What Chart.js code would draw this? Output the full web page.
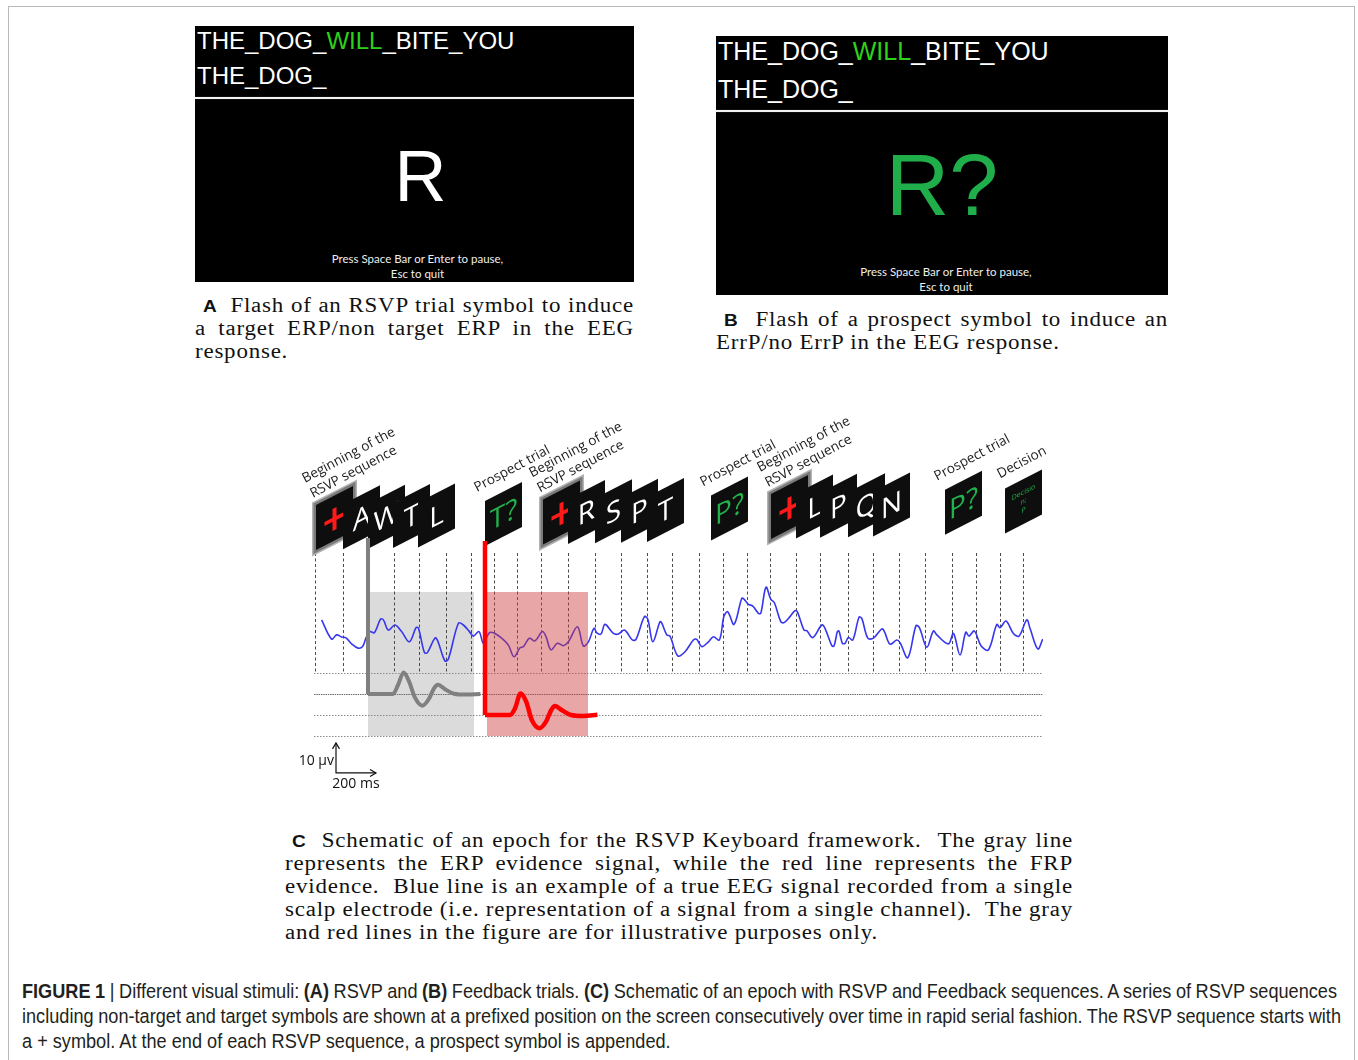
<!DOCTYPE html>
<html>
<head>
<meta charset="utf-8">
<script src="https://cdn.jsdelivr.net/npm/chart.js@4.4.0/dist/chart.umd.min.js"></script>
<style>
  html, body { margin: 0; padding: 0; background: #fff; }
  body { width: 1358px; height: 1060px; position: relative; overflow: hidden; }
  .frame { position: absolute; left: 8px; top: 6px; width: 1347px; height: 1100px; border: 1px solid #b8b8b8; box-sizing: border-box; }
  .screen { position: absolute; background: #000; color: #fff; font-family: "Liberation Sans", Arial, sans-serif; overflow: hidden; }
  .screen .row { position: absolute; left: 2px; white-space: nowrap; line-height: 1; }
  .screen .rule { position: absolute; left: 0; right: 0; height: 2px; background: #f2f2f2; box-shadow: 0 0 1px #999; }
  .screen .big { position: absolute; left: 0; right: 0; text-align: center; line-height: 1; }
  .screen .hint { position: absolute; left: 0; right: 0; text-align: center; font-family: Lato, "Open Sans", sans-serif; font-size: 11.5px; line-height: 15px; color: #eee; }
  .green { color: #2ed11a; }
  .cap { position: absolute; font-family: "Liberation Serif", "Times New Roman", serif; font-size: 20.5px; line-height: 23px; color: #111; letter-spacing: 0.7px; }
  .cap b.lab { font-family: "Liberation Sans", Arial, sans-serif; font-weight: bold; font-size: 17px; letter-spacing: 0; }
  .figcap { position: absolute; left: 22px; top: 978px; font-family: "Liberation Sans", Arial, sans-serif; font-size: 20.5px; line-height: 25px; color: #231f20; }
  .ln { display: block; height: 23px; }
  .figcap .ln { height: 25px; }
  .ln span { display: inline-block; white-space: nowrap; transform-origin: 0 50%; }
  #chartBox { position: absolute; left: 280px; top: 400px; width: 800px; height: 400px; }
</style>
</head>
<body>
<div class="frame"></div>

<!-- Panel A: RSVP trial screen -->
<div class="screen" style="left:195px; top:26px; width:439px; height:256px;">
  <div class="row" style="top:3px; font-size:24px;">THE_DOG_<span class="green">WILL</span>_BITE_YOU</div>
  <div class="row" style="top:38px; font-size:24px;">THE_DOG_</div>
  <div class="rule" style="top:71px;"></div>
  <div class="big" style="top:114px; font-size:72px; padding-left:12px;">R</div>
  <div class="hint" style="top:225px; padding-left:6px;">Press Space Bar or Enter to pause,<br>Esc to quit</div>
</div>
<div class="cap" style="left:195px; top:294px;" data-scale="1.12">
  <div class="ln" data-w="439" data-pad="8"><span><b class="lab">A</b>&nbsp; Flash of an RSVP trial symbol to induce</span></div>
  <div class="ln" data-w="439"><span>a target ERP/non target ERP in the EEG</span></div>
  <div class="ln"><span>response.</span></div>
</div>

<!-- Panel B: feedback (prospect) screen -->
<div class="screen" style="left:716px; top:36px; width:452px; height:259px;">
  <div class="row" style="top:3px; font-size:25px;">THE_DOG_<span class="green">WILL</span>_BITE_YOU</div>
  <div class="row" style="top:41px; font-size:25px;">THE_DOG_</div>
  <div class="rule" style="top:74px;"></div>
  <div class="big" style="top:105px; font-size:88px; color:#1fae4a;">R?</div>
  <div class="hint" style="top:228px; padding-left:8px;">Press Space Bar or Enter to pause,<br>Esc to quit</div>
</div>
<div class="cap" style="left:716px; top:308px;" data-scale="1.12">
  <div class="ln" data-w="452" data-pad="8"><span><b class="lab">B</b>&nbsp; Flash of a prospect symbol to induce an</span></div>
  <div class="ln"><span>ErrP/no ErrP in the EEG response.</span></div>
</div>

<!-- Panel C: epoch schematic -->
<div id="chartBox"><canvas id="epoch" width="800" height="400"></canvas></div>
<div class="cap" style="left:285px; top:829px;" data-scale="1.12">
  <div class="ln" data-w="788" data-pad="7"><span><b class="lab">C</b>&nbsp; Schematic of an epoch for the RSVP Keyboard framework. &nbsp;The gray line</span></div>
  <div class="ln" data-w="788"><span>represents the ERP evidence signal, while the red line represents the FRP</span></div>
  <div class="ln" data-w="788"><span>evidence. &nbsp;Blue line is an example of a true EEG signal recorded from a single</span></div>
  <div class="ln" data-w="788"><span>scalp electrode (i.e. representation of a signal from a single channel). &nbsp;The gray</span></div>
  <div class="ln"><span>and red lines in the figure are for illustrative purposes only.</span></div>
</div>

<div class="figcap" data-scale="0.885">
  <div class="ln" data-w="1315"><span><b>FIGURE 1</b> | Different visual stimuli: <b>(A)</b> RSVP and <b>(B)</b> Feedback trials. <b>(C)</b> Schematic of an epoch with RSVP and Feedback sequences. A series of RSVP sequences</span></div>
  <div class="ln" data-w="1319"><span>including non-target and target symbols are shown at a prefixed position on the screen consecutively over time in rapid serial fashion. The RSVP sequence starts with</span></div>
  <div class="ln"><span>a + symbol. At the end of each RSVP sequence, a prospect symbol is appended.</span></div>
</div>

<script>
// Typeset caption lines: horizontal scale for the face, word spacing to justify.
document.querySelectorAll('.cap, .figcap').forEach(block => {
  const s = parseFloat(block.dataset.scale || '1');
  block.querySelectorAll('.ln').forEach(line => {
    const span = line.querySelector('span');
    const pad = parseFloat(line.dataset.pad || '0');
    span.style.marginLeft = pad + 'px';
    const target = parseFloat(line.dataset.w || '0');
    if (target) {
      const w = span.getBoundingClientRect().width;
      const spaces = (span.textContent.match(/\s/g) || []).length;
      const extra = (target - pad) / s - w;
      span.style.wordSpacing = (extra / spaces) + 'px';
    }
    span.style.transform = 'scaleX(' + s + ')';
  });
});
</script>

<script>
// ---- EEG trace (time in ms, amplitude in µV) ----
const eegTime = [38,88,113,138,160,188,220,243,260,280,302,333,347,372,405,438,477,510,522,552,567,605,618,655,672,722,747,777,797,825,847,875,897,
  938,972,1000,1030,1047,1077,1105,1142,1160,1185,1217,1247,1272,1317,1347,1372,1400,1414,1435,1455,1497,1522,1552,1592,1610,1652,1669,1694,1730,1739,1764,1780,1819,
  1855,1897,1914,1939,1972,1997,2027,2050,2069,2100,2139,2150,2172,2194,2222,2234,2260,2284,2302,2334,2350,2380,2405,2417,2450,2464,2494,2539,2555,2589,2600,2617,2625,2642,2655,2672,2694,2725,2739,2769,
  2797,2839,2852,2880,2914,2930,2969,3010,3027,3064,3097,3114,3172,3197,3230,3259,3275,3302,3335,3372,3414,3430,3460,3497,3525,3564,3580,3619,3644];
const eegMicroV = [6.7,0.3,1.7,1.0,0.7,-1.3,-2.7,-2.2,0.7,2.8,2.4,7.0,6.7,3.3,5.0,2.8,-0.6,4.1,4.0,-4.2,-4.2,0.7,-0.2,-7.0,-6.3,5.6,5.0,2.8,1.3,2.8,-1.1,2.3,2.4,
  0.6,-1.7,-5.6,-2.6,-2.2,0.6,-0.3,2.8,1.1,-3.3,-1.1,-1.9,-0.6,4.4,-2.0,-0.6,3.9,2.4,2.0,5.2,2.2,2.0,3.3,0.0,0.2,7.8,6.9,-0.6,6.1,5.6,1.7,1.3,-5.3,
  -3.9,0.0,0.2,-2.2,-0.6,1.1,0.0,8.0,9.4,5.2,13.9,13.6,11.9,11.3,8.9,8.9,17.6,13.6,12.4,6.1,5.8,7.8,9.8,9.4,3.3,3.1,0.8,5.0,3.9,-1.9,-2.0,2.8,3.0,-1.1,-1.1,0.8,0.0,7.6,7.2,0.6,
  0.6,3.7,2.8,-1.4,0.0,-0.9,-5.9,4.8,4.1,-2.4,3.0,1.7,-1.3,2.2,-5.0,2.6,1.3,3.0,-1.9,-3.3,5.2,4.1,6.3,2.2,1.3,6.7,3.9,-3.0,0.3];

// ---- Evidence waveforms (ms after stimulus onset, µV) ----
const erpTime = [0, 60, 125, 150, 178, 205, 235, 272, 305, 330, 350, 385, 430, 490, 562];
const erpGray = [0, 0, 0, 3.0, 7.2, 4.2, -1.2, -3.9, -1.6, 1.9, 3.1, 1.6, 0.1, -0.2, 0];
const erpRed  = [0, 0, 0, 2.2, 7.2, 4.6, -1.8, -4.4, -2.2, 1.5, 3.0, 1.6, 0.0, -0.3, 0.1];
const erpOnsetGray = 270, erpOnsetRed = 855;      // ms
const erpBaseGray = -18, erpBaseRed = -25;        // µV trace offsets
const onsetBarGray = 52, onsetBarRed = 58;        // µV height of onset markers

// ---- Stimulus timing (ms) ----
const stimulusTimes = [5,145,265,400,525,660,785,900,1015,1135,1270,1405,1535,1665,1790,1925,2045,2165,2280,2410,2530,2670,2795,2925,3055,3190,3310,3430,3545];
const referenceLevels = [-11, -18, -25, -32];     // µV
const erpWindow = [270, 800];                     // ERP evidence window (ms)
const frpWindow = [865, 1370];                    // feedback evidence window (ms)
const windowRange = [-32, 16];                    // µV

// ---- Presented symbols ----
const seq1Symbols = ['+', 'A', 'W', 'T', 'L'];
const seq1Times   = [10, 145, 270, 395, 520];
const seq2Symbols = ['+', 'R', 'S', 'P', 'T'];
const seq2Times   = [1145, 1270, 1405, 1535, 1665];
const seq3Symbols = ['+', 'L', 'P', 'Q', 'N'];
const seq3Times   = [2285, 2410, 2530, 2670, 2795];
const prospectSymbols = ['T?', 'P?', 'P?'];
const prospectTimes   = [855, 1985, 3155];
const decisionTime = 3455;
const decisionText = ['Decisio', 'n:', 'P'];

const seqLabel = ['Beginning of the', 'RSVP sequence'];
const prospectLabel = 'Prospect trial';
const decisionLabel = 'Decision';

const scaleBarTime = 200, scaleBarAmp = 10;       // ms, µV
const scaleBarOrigin = [110, -44.3];              // ms, µV

// ---- datasets ----
const eegData = eegTime.map((t, i) => ({ x: t, y: eegMicroV[i] }));
const grayData = erpTime.map((t, i) => ({ x: erpOnsetGray + t, y: erpBaseGray + erpGray[i] }));
const redData = erpTime.map((t, i) => ({ x: erpOnsetRed + t, y: erpBaseRed + erpRed[i] }));

const CARD_W = 37, CARD_H = 45, CARD_RISE = 19;

function cardGeom(chart, t) {
  const xs = chart.scales.x, ys = chart.scales.y;
  const xL = xs.getPixelForValue(t);
  const yB = ys.getPixelForValue(30) - 0.024 * (xL - xs.getPixelForValue(0));
  return { xL, yB };
}

function cardPath(ctx, xL, yB) {
  ctx.beginPath();
  ctx.moveTo(xL, yB);
  ctx.lineTo(xL, yB - CARD_H);
  ctx.lineTo(xL + CARD_W, yB - CARD_H - CARD_RISE);
  ctx.lineTo(xL + CARD_W, yB - CARD_RISE);
  ctx.closePath();
}

function drawCard(ctx, g, text, color, framed, fontSize) {
  ctx.save();
  cardPath(ctx, g.xL, g.yB);
  if (framed) {
    ctx.lineJoin = 'miter';
    ctx.lineWidth = 8; ctx.strokeStyle = '#b4b4b4'; ctx.stroke();
    ctx.lineWidth = 5; ctx.strokeStyle = '#7a7a7a'; ctx.stroke();
  }
  ctx.fillStyle = '#0e0e0e';
  ctx.fill();
  ctx.translate(g.xL + CARD_W / 2, g.yB - CARD_H / 2 - CARD_RISE / 2);
  ctx.transform(1, -CARD_RISE / CARD_W, 0, 1, 0, 0);
  ctx.fillStyle = color;
  ctx.textAlign = 'center';
  ctx.textBaseline = 'middle';
  if (Array.isArray(text)) {
    ctx.font = '7px "Open Sans", sans-serif';
    text.forEach((s, i) => ctx.fillText(s, 0, (i - 1) * 9));
  } else if (text === '+') {
    ctx.strokeStyle = color; ctx.lineWidth = 4; ctx.lineCap = 'butt';
    ctx.beginPath(); ctx.moveTo(-10, 1); ctx.lineTo(10, 1); ctx.moveTo(0, -10); ctx.lineTo(0, 12); ctx.stroke();
  } else {
    ctx.font = '400 ' + fontSize + 'px "Open Sans", sans-serif';
    ctx.fillText(text, 0, 2);
  }
  ctx.restore();
}

function drawLabel(ctx, x, y, text) {
  ctx.save();
  ctx.translate(x, y);
  ctx.rotate(-28 * Math.PI / 180);
  ctx.font = '13.5px "Open Sans", sans-serif';
  ctx.fillStyle = '#1a1a1a';
  ctx.textAlign = 'left';
  ctx.textBaseline = 'alphabetic';
  ctx.fillText(text, 0, 0);
  ctx.restore();
}

const epochDecor = {
  id: 'epochDecor',
  beforeDatasetsDraw(chart) {
    const { ctx, scales: { x, y } } = chart;
    ctx.save();
    // ERP evidence window
    ctx.fillStyle = 'rgba(205,205,205,0.72)';
    ctx.fillRect(x.getPixelForValue(erpWindow[0]), y.getPixelForValue(windowRange[1]),
      x.getPixelForValue(erpWindow[1]) - x.getPixelForValue(erpWindow[0]),
      y.getPixelForValue(windowRange[0]) - y.getPixelForValue(windowRange[1]));
    // stimulus markers
    ctx.strokeStyle = '#4a4a4a'; ctx.lineWidth = 1; ctx.setLineDash([3, 2.5]);
    stimulusTimes.forEach(t => {
      const px = Math.round(x.getPixelForValue(t)) + 0.5;
      ctx.beginPath(); ctx.moveTo(px, y.getPixelForValue(29)); ctx.lineTo(px, y.getPixelForValue(referenceLevels[0])); ctx.stroke();
    });
    // reference levels
    referenceLevels.forEach((lv, i) => {
      const py = Math.round(y.getPixelForValue(lv)) + 0.5;
      ctx.setLineDash(i === 1 ? [1.5, 0.8] : [1.5, 1.5]);
      ctx.strokeStyle = i === 1 ? '#6a6a6a' : '#8a8a8a';
      ctx.beginPath(); ctx.moveTo(x.getPixelForValue(0), py); ctx.lineTo(x.getPixelForValue(3645), py); ctx.stroke();
    });
    ctx.setLineDash([]);

    // symbol cards and their labels
    [[seq1Symbols, seq1Times], [seq2Symbols, seq2Times], [seq3Symbols, seq3Times]].forEach(([syms, times]) => {
      times.forEach((t, i) => {
        const g = cardGeom(chart, t);
        drawCard(ctx, g, syms[i], syms[i] === '+' ? '#ff1a1a' : '#ffffff', i === 0, 28);
      });
      const g0 = cardGeom(chart, times[0]);
      drawLabel(ctx, g0.xL - 11, g0.yB - CARD_H - 22, seqLabel[0]);
      drawLabel(ctx, g0.xL - 3, g0.yB - CARD_H - 7, seqLabel[1]);
    });
    prospectTimes.forEach((t, i) => {
      const g = cardGeom(chart, t);
      drawCard(ctx, g, prospectSymbols[i], '#22b24c', false, 28);
      drawLabel(ctx, g.xL - 8, g.yB - CARD_H - 9, prospectLabel);
    });
    const gd = cardGeom(chart, decisionTime);
    drawCard(ctx, gd, decisionText, '#22b24c', false, 7);
    drawLabel(ctx, gd.xL - 5, gd.yB - CARD_H - 10, decisionLabel);

    // scale bar
    const ox = x.getPixelForValue(scaleBarOrigin[0]), oy = y.getPixelForValue(scaleBarOrigin[1]);
    const ex = x.getPixelForValue(scaleBarOrigin[0] + scaleBarTime);
    const ey = y.getPixelForValue(scaleBarOrigin[1] + scaleBarAmp);
    ctx.strokeStyle = '#111'; ctx.fillStyle = '#111'; ctx.lineWidth = 1.2;
    ctx.beginPath(); ctx.moveTo(ox, ey); ctx.lineTo(ox, oy); ctx.lineTo(ex, oy); ctx.stroke();
    ctx.beginPath(); ctx.moveTo(ox - 3.5, ey + 6); ctx.lineTo(ox, ey); ctx.lineTo(ox + 3.5, ey + 6); ctx.stroke();
    ctx.beginPath(); ctx.moveTo(ex - 6, oy - 3.5); ctx.lineTo(ex, oy); ctx.lineTo(ex - 6, oy + 3.5); ctx.stroke();
    ctx.font = '14px "Open Sans", sans-serif';
    ctx.textBaseline = 'middle';
    ctx.textAlign = 'right';
    ctx.fillText('10 µv', ox - 2, (ey + oy) / 2 + 3);
    ctx.textAlign = 'center';
    ctx.fillText('200 ms', (ox + ex) / 2, oy + 11);
    ctx.restore();
  },
  afterDatasetDraw(chart, args) {
    if (args.index !== 0) return;
    // feedback evidence window sits over the EEG trace
    const { ctx, scales: { x, y } } = chart;
    ctx.save();
    ctx.fillStyle = 'rgba(205,62,62,0.46)';
    ctx.fillRect(x.getPixelForValue(frpWindow[0]), y.getPixelForValue(windowRange[1]),
      x.getPixelForValue(frpWindow[1]) - x.getPixelForValue(frpWindow[0]),
      y.getPixelForValue(windowRange[0]) - y.getPixelForValue(windowRange[1]));
    ctx.restore();
  }
};

new Chart(document.getElementById('epoch'), {
  type: 'line',
  data: {
    datasets: [
      { label: 'EEG', data: eegData, borderColor: '#3636ee', borderWidth: 1.6, tension: 0.35, pointRadius: 0, order: 6 },
      { label: 'ERP evidence', data: grayData, borderColor: '#808080', borderWidth: 4, cubicInterpolationMode: 'monotone', pointRadius: 0, order: 4 },
      { label: 'ERP onset', data: [{ x: erpOnsetGray, y: erpBaseGray + onsetBarGray }, { x: erpOnsetGray, y: erpBaseGray }], borderColor: '#808080', borderWidth: 4, tension: 0, pointRadius: 0, order: 3 },
      { label: 'FRP evidence', data: redData, borderColor: '#ff0000', borderWidth: 4.5, cubicInterpolationMode: 'monotone', pointRadius: 0, order: 2 },
      { label: 'FRP onset', data: [{ x: erpOnsetRed, y: erpBaseRed + onsetBarRed }, { x: erpOnsetRed, y: erpBaseRed }], borderColor: '#ff0000', borderWidth: 4.5, tension: 0, pointRadius: 0, order: 1 }
    ]
  },
  options: {
    responsive: false,
    animation: false,
    events: [],
    layout: { padding: { left: 34, right: 37, top: 0, bottom: 10 } },
    scales: {
      x: { type: 'linear', min: 0, max: 3645, display: false },
      y: { type: 'linear', min: -50, max: 80, display: false }
    },
    plugins: { legend: { display: false }, tooltip: { enabled: false } }
  },
  plugins: [epochDecor]
});
</script>
</body>
</html>
